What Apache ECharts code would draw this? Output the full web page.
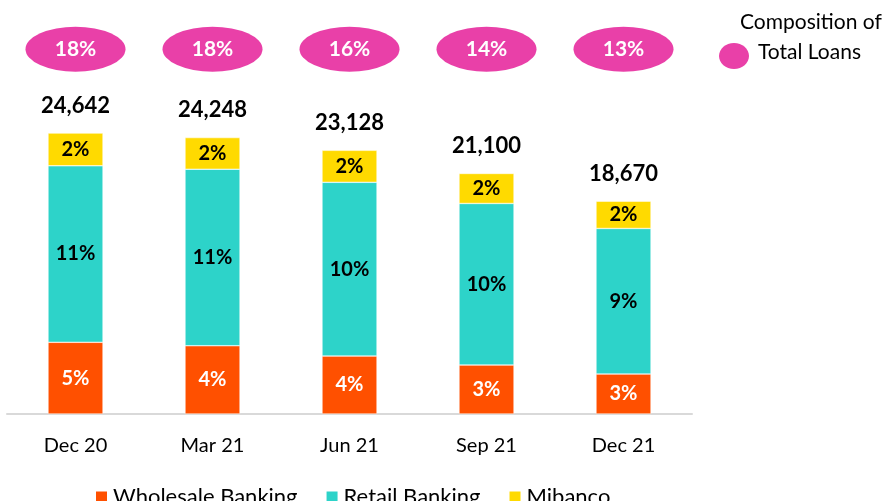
<!DOCTYPE html>
<html><head><meta charset="utf-8">
<script src="https://cdn.jsdelivr.net/npm/echarts@6/dist/echarts.min.js"></script>
<style>html,body{margin:0;padding:0;background:#fff}#c{width:886px;height:501px}</style>
</head><body><div id="c"></div>
<script>
const categories = ['Dec 20', 'Mar 21', 'Jun 21', 'Sep 21', 'Dec 21'];
const wholesale = [6288, 5990, 5086, 4297, 3508];
const retail = [15486, 15478, 15236, 14172, 12768];
const mibanco = [2868, 2780, 2806, 2631, 2394];
const totals = [24642, 24248, 23128, 21100, 18670];
const wholesalePct = ['5%', '4%', '4%', '3%', '3%'];
const retailPct = ['11%', '11%', '10%', '10%', '9%'];
const mibancoPct = ['2%', '2%', '2%', '2%', '2%'];
const compositionPct = ['18%', '18%', '16%', '14%', '13%'];
const seriesNames = ['Wholesale Banking', 'Retail Banking', 'Mibanco'];

const FONT = 'Lato';
const ELLIPSE_LEVEL = 32000;
const chart = echarts.init(document.getElementById('c'));
function barLabel(arr, color) {
  return { show: true, position: 'inside', fontFamily: FONT, fontWeight: 'bold', fontSize: 20, color: color,
    formatter: p => arr[p.dataIndex] };
}
chart.setOption({
  animation: false,
  textStyle: { fontFamily: FONT },
  grid: { left: 7, right: 194, top: 15, bottom: 87 },
  xAxis: { type: 'category', data: categories,
    axisLine: { lineStyle: { color: '#d9d9d9', width: 2 } }, axisTick: { show: false },
    axisLabel: { fontFamily: FONT, fontSize: 20, color: '#000', margin: 22 } },
  yAxis: { type: 'value', min: 0, max: 35000, show: false, splitLine: { show: false } },
  legend: { data: seriesNames, left: 89, top: 481, itemWidth: 13, itemHeight: 13, itemGap: 27, icon: 'rect',
    textStyle: { fontFamily: FONT, fontSize: 22, color: '#000' } },
  graphic: [
    { type: 'ellipse', shape: { cx: 734, cy: 56, rx: 15, ry: 13 }, style: { fill: '#E940A8' } },
    { type: 'text', left: 740, top: 12, style: { text: 'Composition of', fontFamily: FONT, fontSize: 21, fill: '#000' } },
    { type: 'text', left: 758, top: 42, style: { text: 'Total Loans', fontFamily: FONT, fontSize: 21, fill: '#000' } }
  ],
  series: [
    { name: seriesNames[0], type: 'bar', stack: 'a', barWidth: 55, data: wholesale,
      itemStyle: { color: '#FF5000', borderColor: '#fff', borderWidth: 0.5 }, label: barLabel(wholesalePct, '#fff') },
    { name: seriesNames[1], type: 'bar', stack: 'a', barWidth: 55, data: retail,
      itemStyle: { color: '#2DD3C9', borderColor: '#fff', borderWidth: 0.5 }, label: barLabel(retailPct, '#000') },
    { name: seriesNames[2], type: 'bar', stack: 'a', barWidth: 55, data: mibanco,
      itemStyle: { color: '#FFDA00', borderColor: '#fff', borderWidth: 0.5 }, label: barLabel(mibancoPct, '#000') },
    { name: 'Total', type: 'scatter', data: totals, symbolSize: 1, silent: true,
      itemStyle: { color: 'rgba(0,0,0,0)' },
      label: { show: true, position: 'top', distance: 16, fontFamily: FONT, fontWeight: 'bold', fontSize: 22, color: '#000', opacity: 1,
        formatter: p => totals[p.dataIndex].toLocaleString('en-US') } },
    { name: 'Composition', type: 'scatter', data: categories.map(() => ELLIPSE_LEVEL), symbol: 'circle', symbolSize: [100, 45],
      silent: true, itemStyle: { color: '#E940A8', opacity: 1 },
      label: { show: true, position: 'inside', fontFamily: FONT, fontWeight: 'bold', fontSize: 21, color: '#fff',
        formatter: p => compositionPct[p.dataIndex] } }
  ]
});
</script></body></html>
